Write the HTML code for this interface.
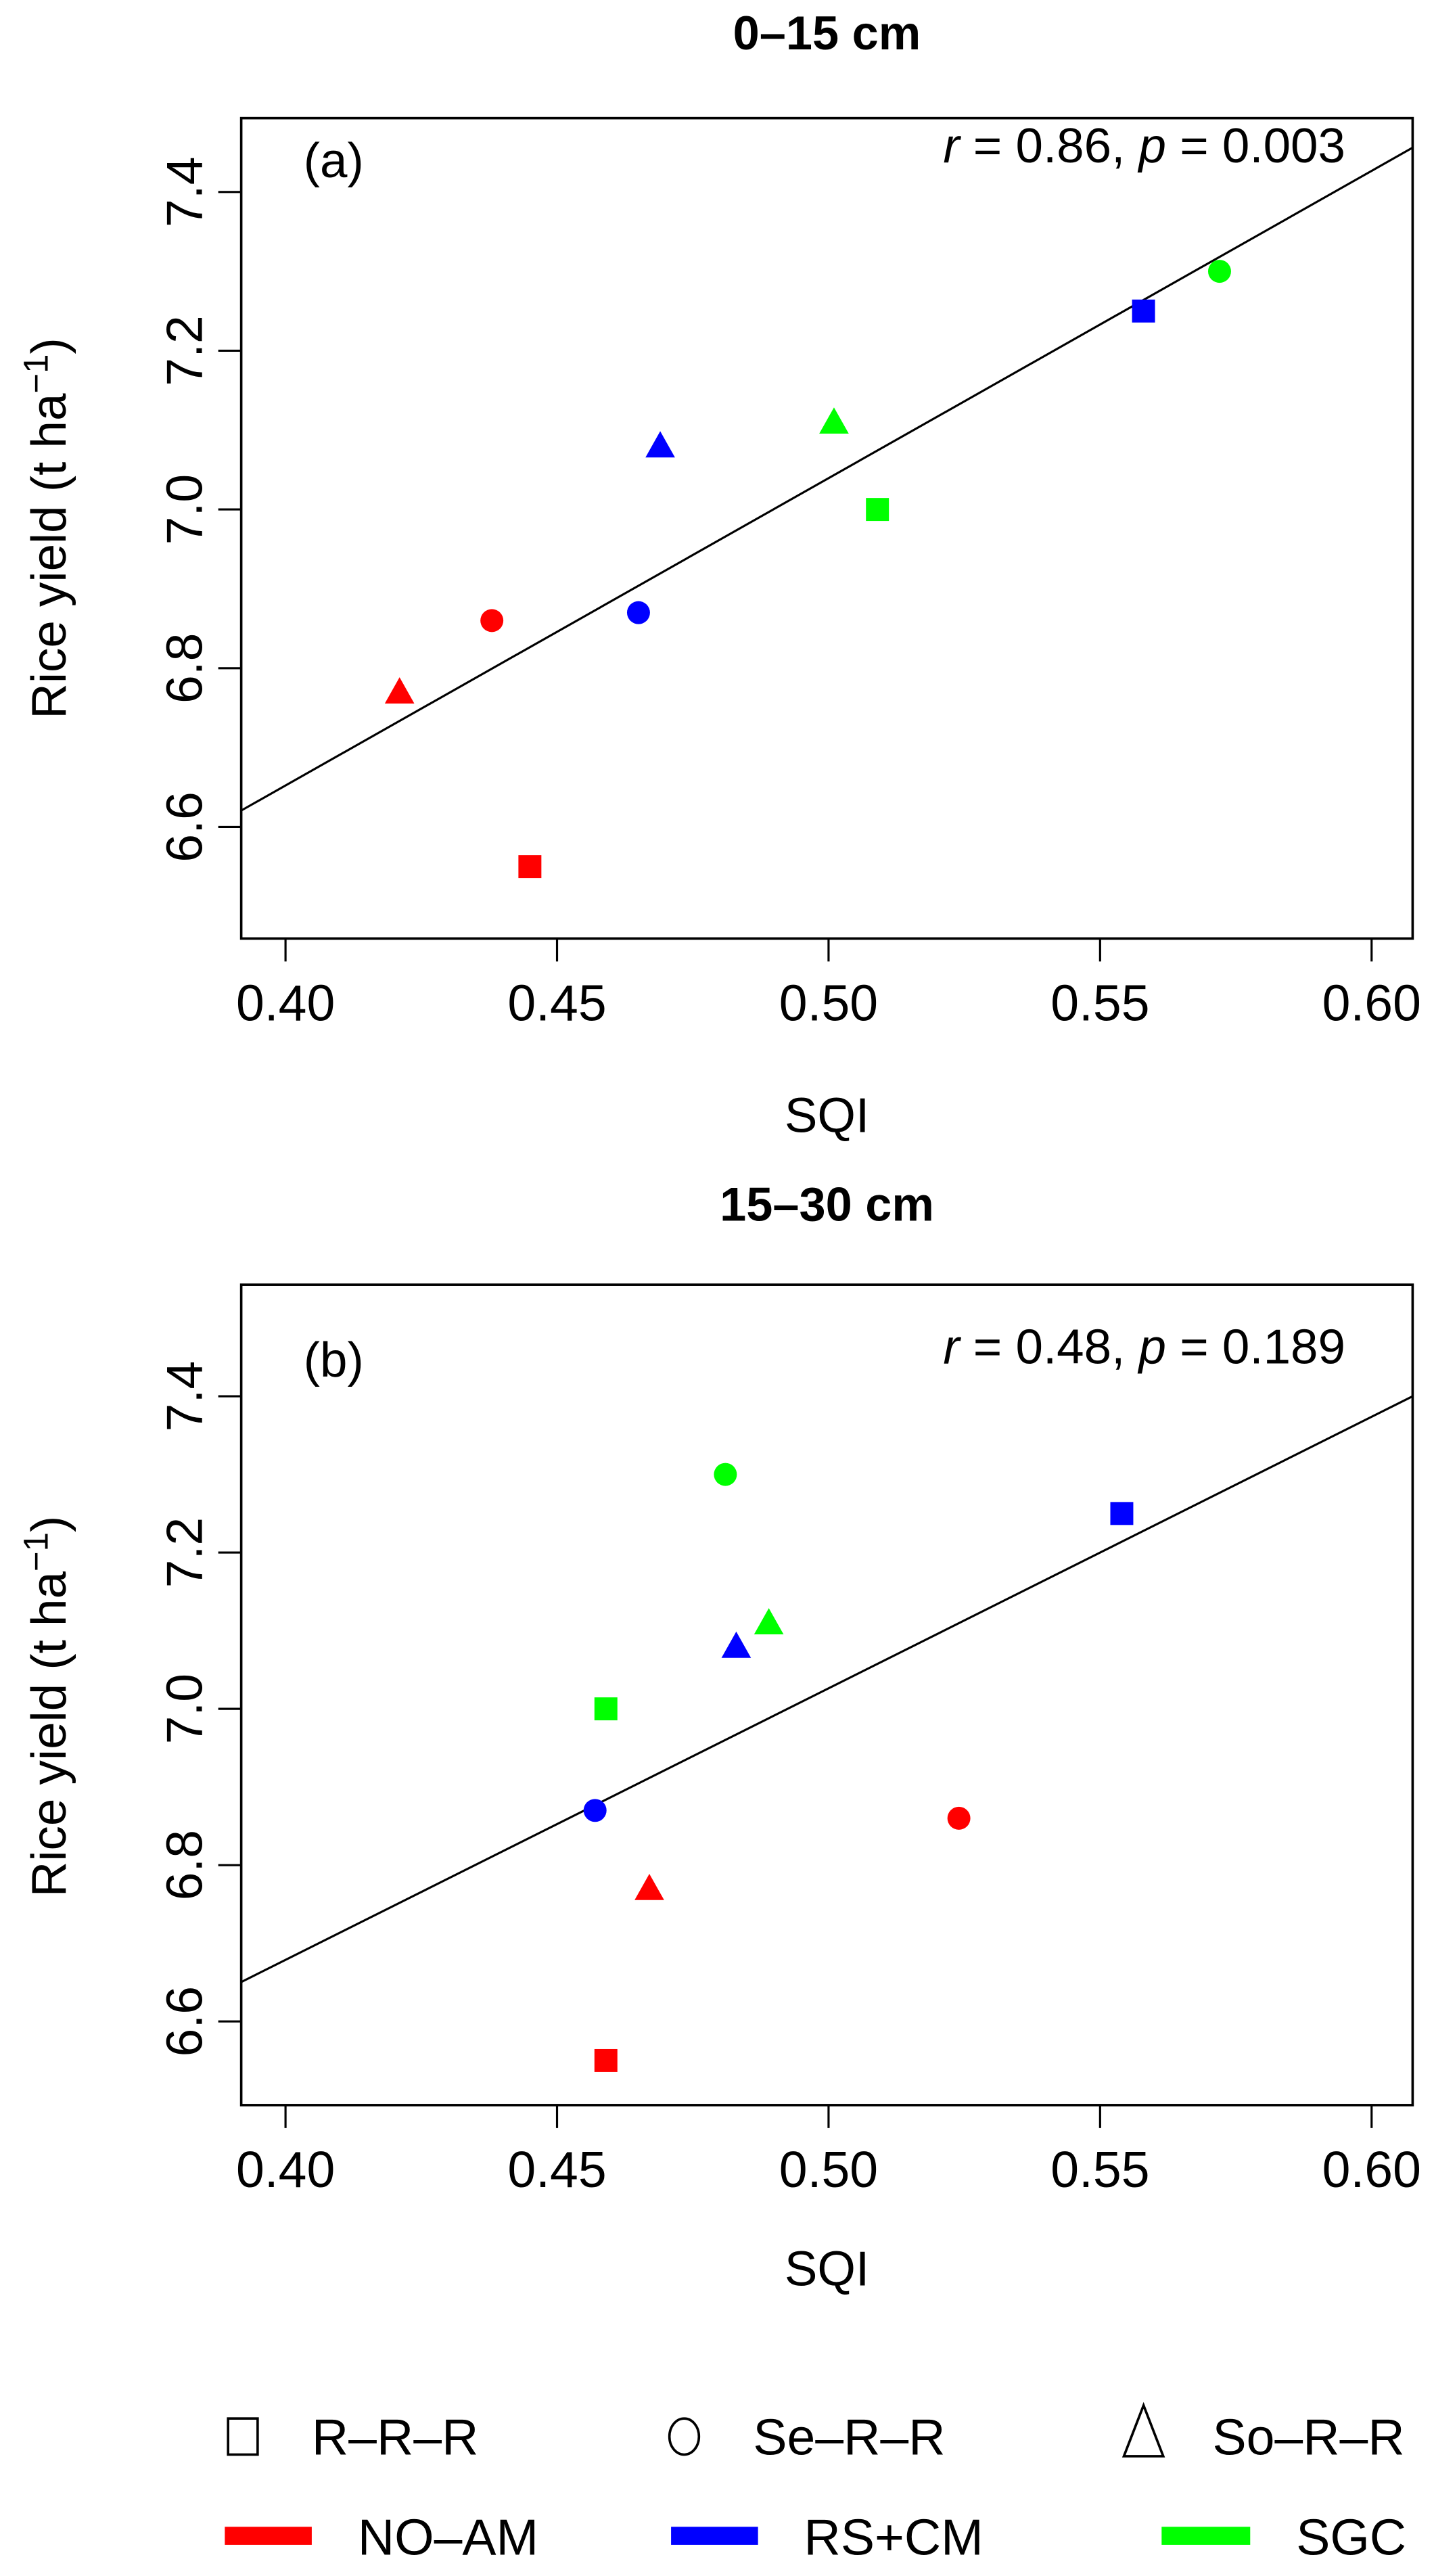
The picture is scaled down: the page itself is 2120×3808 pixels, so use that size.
<!DOCTYPE html>
<html><head><meta charset="utf-8"><style>
html,body{margin:0;padding:0;background:#fff;}
svg{display:block;font-family:"Liberation Sans",sans-serif;}
</style></head><body>
<svg id="s" width="2120" height="3808" viewBox="0 0 874 1570" xmlns="http://www.w3.org/2000/svg">
<rect width="874" height="1570" fill="#fff"/>
<!-- Panel a -->
<text x="504" y="30" font-size="29" font-weight="bold" text-anchor="middle">0–15 cm</text>
<rect x="147" y="72" width="714" height="500" fill="none" stroke="#000" stroke-width="1.5"/>
<text x="185" y="108" font-size="30">(a)</text>
<text x="820" y="99" font-size="30" text-anchor="end"><tspan font-style="italic">r</tspan> = 0.86, <tspan font-style="italic">p</tspan> = 0.003</text>
<text x="504" y="690" font-size="30" text-anchor="middle">SQI</text>
<text transform="translate(40,322) rotate(-90)" font-size="30" text-anchor="middle">Rice yield (t ha<tspan dy="-11" font-size="21">−1</tspan><tspan dy="11">)</tspan></text>
<!-- Panel b -->
<text x="504" y="744" font-size="29" font-weight="bold" text-anchor="middle">15–30 cm</text>
<rect x="147" y="783" width="714" height="500" fill="none" stroke="#000" stroke-width="1.5"/>
<text x="185" y="839" font-size="30">(b)</text>
<text x="820" y="831" font-size="30" text-anchor="end"><tspan font-style="italic">r</tspan> = 0.48, <tspan font-style="italic">p</tspan> = 0.189</text>
<text x="504" y="1393" font-size="30" text-anchor="middle">SQI</text>
<text transform="translate(40,1040) rotate(-90)" font-size="30" text-anchor="middle">Rice yield (t ha<tspan dy="-11" font-size="21">−1</tspan><tspan dy="11">)</tspan></text>
<!-- Legend -->
<rect x="139" y="1474" width="18" height="22" fill="none" stroke="#000" stroke-width="1.5"/>
<text x="190" y="1496" font-size="31">R–R–R</text>
<ellipse cx="417" cy="1485" rx="9" ry="11" fill="none" stroke="#000" stroke-width="1.5"/>
<text x="459" y="1496" font-size="31">Se–R–R</text>
<polygon points="697,1466 685,1497 709,1497" fill="none" stroke="#000" stroke-width="1.5"/>
<text x="739" y="1496" font-size="31">So–R–R</text>
<rect x="137" y="1540" width="53" height="11" fill="#f00"/>
<text x="218" y="1557" font-size="31">NO–AM</text>
<rect x="409" y="1540" width="53" height="11" fill="#00f"/>
<text x="490" y="1557" font-size="31">RS+CM</text>
<rect x="708" y="1540" width="54" height="11" fill="#0f0"/>
<text x="790" y="1557" font-size="31">SGC</text>
<g id="g"></g>
</svg>
<script>
var NS="http://www.w3.org/2000/svg",g=document.getElementById('g');
function el(t,a,txt){var e=document.createElementNS(NS,t);for(var k in a)e.setAttribute(k,a[k]);if(txt!==undefined)e.textContent=txt;g.appendChild(e);return e;}
function X(v){return 174+(v-0.40)/0.05*165.5;}
function panel(top,bottom,y74,step,pts,line){
  function Y(v){return y74+(7.4-v)/0.2*step;}
  [0.40,0.45,0.50,0.55,0.60].forEach(function(v){var x=X(v);
    el('line',{x1:x,y1:bottom,x2:x,y2:bottom+14,stroke:'#000','stroke-width':1.3});
    el('text',{x:x,y:bottom+50,'font-size':31,'text-anchor':'middle'},v.toFixed(2));});
  [6.6,6.8,7.0,7.2,7.4].forEach(function(v){var y=Y(v);
    el('line',{x1:147,y1:y,x2:133,y2:y,stroke:'#000','stroke-width':1.3});
    el('text',{transform:'translate(123,'+y+') rotate(-90)','font-size':31,'text-anchor':'middle'},v.toFixed(1));});
  el('line',{x1:147,y1:line[0],x2:861,y2:line[1],stroke:'#000','stroke-width':1.3});
  var col={r:'#f00',b:'#00f',g:'#0f0'};
  pts.forEach(function(p){var x=X(p[0]),y=Y(p[1]),c=col[p[2]];
    if(p[3]=='s')el('rect',{x:x-7,y:y-7,width:14,height:14,fill:c});
    else if(p[3]=='c')el('circle',{cx:x,cy:y,r:7,fill:c});
    else el('polygon',{points:x+','+(y-9)+' '+(x-9)+','+(y+7)+' '+(x+9)+','+(y+7),fill:c});});
}
panel(72,572,117,96.75,[[0.445,6.55,'r','s'],[0.438,6.86,'r','c'],[0.421,6.77,'r','t'],[0.558,7.25,'b','s'],[0.465,6.87,'b','c'],[0.469,7.08,'b','t'],[0.509,7.00,'g','s'],[0.572,7.30,'g','c'],[0.501,7.11,'g','t']],[494,90]);
panel(783,1283,851,95.25,[[0.459,6.55,'r','s'],[0.524,6.86,'r','c'],[0.467,6.77,'r','t'],[0.554,7.25,'b','s'],[0.457,6.87,'b','c'],[0.483,7.08,'b','t'],[0.459,7.00,'g','s'],[0.481,7.30,'g','c'],[0.489,7.11,'g','t']],[1208,851]);
</script>
</body></html>
